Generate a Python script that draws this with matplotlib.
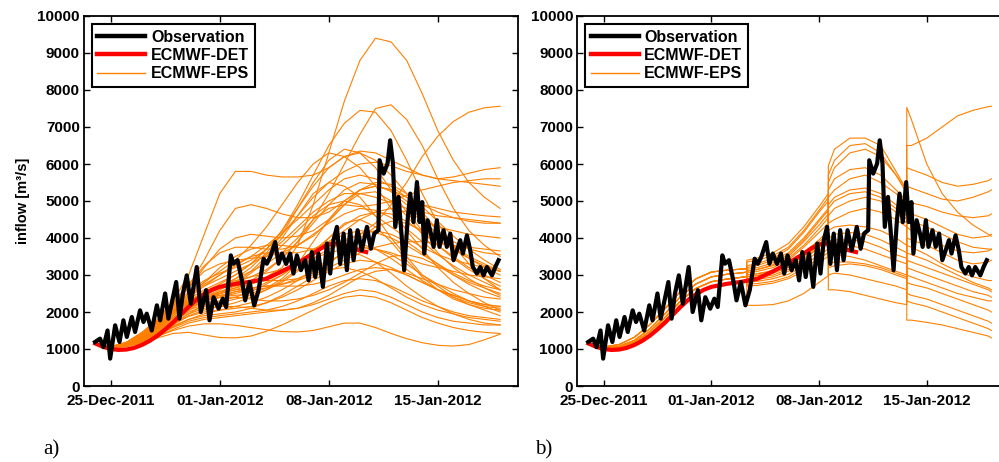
import numpy as np
import matplotlib
matplotlib.use('Agg')
import matplotlib.pyplot as plt
import matplotlib.dates as mdates
from matplotlib.lines import Line2D

plt.rcParams['font.family'] = ['Liberation Sans', 'DejaVu Sans']
plt.rcParams['font.weight'] = 'bold'

# time axis: days since 25-Dec-2011 00:00
BASE = np.datetime64('2011-12-25T00:00')
X_RANGE = (-1.72, 26.15)

# observed inflow
obs_day = [-1.01, -0.69, -0.47, -0.21, -0.04, 0.28, 0.56, 0.81, 1.03, 1.35,
           1.56, 1.88, 2.10, 2.31, 2.63, 2.96, 3.17, 3.49, 3.70, 4.20,
           4.41, 4.63, 4.88, 5.14, 5.52, 5.78, 6.12, 6.34, 6.60, 6.92,
           7.19, 7.41, 7.71, 7.88, 8.14, 8.42, 8.63, 8.91, 9.21, 9.49,
           9.81, 10.02, 10.24, 10.56, 10.77, 10.99, 11.26, 11.52, 11.73, 11.95,
           12.21, 12.48, 12.70, 12.91, 13.13, 13.34, 13.62, 13.88, 14.09, 14.30,
           14.52, 14.73, 14.95, 15.16, 15.37, 15.59, 15.85, 16.12, 16.45, 16.70,
           16.92, 17.19, 17.26, 17.52, 17.77, 17.94, 18.12, 18.27, 18.48, 18.69,
           18.84, 19.06, 19.23, 19.44, 19.66, 19.83, 20.00, 20.13, 20.34, 20.56,
           20.73, 20.94, 21.11, 21.37, 21.58, 21.80, 22.01, 22.23, 22.44, 22.61,
           22.87, 23.08, 23.25, 23.51, 23.73, 23.94, 24.15, 24.48, 24.69, 24.90]
obs_flow = [1190, 1280, 1050, 1500, 740, 1640, 1190, 1775, 1325, 1865,
            1460, 2045, 1730, 1955, 1500, 2180, 1775, 2500, 1820, 2810,
            1820, 2500, 2990, 2225, 3215, 2000, 2590, 1775, 2400, 2090,
            2360, 2135, 3530, 3305, 3400, 2855, 2315, 2810, 2180, 2590,
            3440, 3305, 3490, 3890, 3305, 3580, 3300, 3580, 3040, 3530,
            3130, 3400, 2855, 3620, 2945, 3580, 2680, 3850, 3040, 3940,
            4300, 3300, 4120, 3130, 4210, 3400, 4210, 3670, 4300, 3710,
            4120, 4210, 6100, 5740, 6010, 6640, 6010, 4300, 5110, 3980,
            3130, 4480, 5200, 4430, 5510, 4430, 4970, 3580, 4480, 4120,
            3760, 4480, 3760, 4210, 3760, 4120, 3400, 3670, 3940, 3580,
            4070, 3670, 3215, 3040, 3215, 2990, 3215, 2990, 3215, 3400]

# deterministic forecast
det_day = [-1, -0.5, 0, 0.5, 1, 1.5, 2, 2.5, 3, 3.5, 4, 4.5, 5, 5.5, 6, 6.5,
           7, 8, 9, 10, 11, 12, 13, 13.5, 14, 14.5, 15, 15.5, 16, 16.4]
det_flow = [1150, 1060, 1000, 975, 985, 1030, 1110, 1220, 1360, 1530, 1720,
            1930, 2140, 2330, 2480, 2600, 2680, 2760, 2820, 2900, 3100, 3320,
            3580, 3720, 3830, 3850, 3800, 3730, 3660, 3620]

# panel a: single EPS run, daily values from day -1 to day 25
eps_a_day = list(range(-1, 26))
eps_a = [
    [1150, 1060, 1160, 1380, 1700, 2050, 2300, 2450, 2500, 2600, 2750, 2950, 3200, 3800, 4900, 6300, 7700, 8800, 9400, 9300, 8800, 7900, 6900, 6100, 5500, 5100, 4800],
    [1150, 1050, 1150, 1370, 1680, 2000, 2300, 2500, 2650, 2800, 2950, 3150, 3450, 3900, 4500, 5200, 6000, 6800, 7500, 7600, 7200, 6500, 5600, 4800, 4200, 3800, 3500],
    [1150, 1060, 1170, 1400, 1750, 2150, 2550, 2850, 3050, 3200, 3400, 3700, 4200, 4900, 5700, 6500, 7100, 7450, 7400, 6900, 6100, 5200, 4400, 3800, 3300, 2900, 2600],
    [1150, 1060, 1170, 1400, 1700, 2000, 2200, 2300, 2400, 2500, 2600, 2800, 3000, 3300, 3600, 3800, 3950, 4100, 4400, 4900, 5500, 6200, 6750, 7150, 7400, 7520, 7560],
    [1150, 1060, 1180, 1450, 1800, 2300, 3000, 4100, 5200, 5800, 5800, 5700, 5650, 5650, 5700, 5900, 6200, 6350, 6300, 6100, 5900, 5700, 5600, 5650, 5750, 5850, 5900],
    [1150, 1060, 1170, 1420, 1750, 2200, 2700, 3400, 4200, 4800, 4900, 4800, 4650, 4550, 4550, 4700, 5000, 5300, 5400, 5300, 5100, 4900, 4700, 4550, 4450, 4400, 4400],
    [1150, 1050, 1150, 1360, 1650, 2000, 2350, 2600, 2800, 3000, 3300, 3700, 4200, 4800, 5400, 5900, 6200, 6300, 6100, 5700, 5200, 4700, 4200, 3800, 3500, 3300, 3100],
    [1150, 1050, 1140, 1340, 1620, 1950, 2250, 2450, 2650, 2900, 3200, 3600, 4100, 4800, 5500, 6100, 6400, 6300, 5900, 5300, 4700, 4200, 3800, 3500, 3200, 3000, 2800],
    [1150, 1060, 1160, 1380, 1700, 2100, 2500, 2800, 3100, 3400, 3800, 4300, 4900, 5500, 6000, 6300, 6200, 5900, 5400, 4800, 4200, 3700, 3200, 2800, 2500, 2250, 2050],
    [1150, 1050, 1150, 1350, 1650, 2000, 2300, 2550, 2750, 3000, 3300, 3700, 4100, 4600, 5100, 5500, 5800, 6000, 6050, 5950, 5800, 5700, 5600, 5550, 5500, 5450, 5400],
    [1150, 1050, 1140, 1330, 1600, 1900, 2200, 2400, 2600, 2800, 3100, 3500, 4000, 4600, 5200, 5500, 5400, 5100, 4600, 4000, 3500, 3000, 2700, 2400, 2200, 2050, 1900],
    [1150, 1060, 1160, 1380, 1680, 2050, 2400, 2700, 2900, 3100, 3300, 3550, 3900, 4300, 4700, 5000, 5200, 5200, 5100, 4950, 4800, 4700, 4600, 4550, 4500, 4450, 4400],
    [1150, 1050, 1150, 1350, 1650, 2000, 2300, 2500, 2700, 2900, 3100, 3300, 3600, 4000, 4500, 4800, 4900, 4850, 4900, 5000, 5150, 5300, 5400, 5500, 5550, 5600, 5600],
    [1150, 1060, 1170, 1400, 1720, 2100, 2450, 2750, 3000, 3250, 3500, 3800, 4150, 4500, 4900, 5300, 5600, 5700, 5600, 5400, 5100, 4900, 4800, 4700, 4650, 4600, 4570],
    [1150, 1050, 1130, 1320, 1580, 1850, 2100, 2300, 2500, 2750, 3050, 3400, 3800, 4200, 4600, 4900, 5000, 4900, 4600, 4300, 4000, 3750, 3550, 3400, 3300, 3200, 3100],
    [1150, 1060, 1170, 1400, 1700, 2050, 2400, 2700, 3000, 3300, 3500, 3600, 3600, 3600, 3700, 3900, 4200, 4500, 4700, 4800, 4700, 4500, 4300, 4200, 4100, 4050, 4000],
    [1150, 1050, 1150, 1350, 1650, 1980, 2250, 2400, 2450, 2450, 2500, 2650, 2900, 3300, 3900, 4500, 5000, 5300, 5400, 5300, 5000, 4600, 4200, 3900, 3700, 3600, 3550],
    [1150, 1040, 1110, 1280, 1520, 1800, 2050, 2200, 2300, 2400, 2550, 2750, 3000, 3300, 3600, 3900, 4100, 4200, 4150, 4000, 3800, 3550, 3300, 3050, 2850, 2700, 2600],
    [1150, 1050, 1140, 1340, 1620, 1950, 2250, 2500, 2700, 2850, 2950, 3050, 3150, 3300, 3450, 3600, 3700, 3750, 3700, 3600, 3450, 3300, 3200, 3100, 3000, 2950, 2900],
    [1150, 1040, 1100, 1260, 1480, 1750, 2000, 2150, 2250, 2350, 2450, 2600, 2800, 3100, 3500, 4000, 4400, 4500, 4300, 3900, 3400, 2950, 2600, 2350, 2200, 2100, 2050],
    [1150, 1050, 1130, 1310, 1560, 1850, 2150, 2350, 2500, 2600, 2650, 2700, 2750, 2850, 3000, 3200, 3400, 3600, 3750, 3850, 3900, 3900, 3850, 3800, 3750, 3700, 3650],
    [1150, 1040, 1100, 1250, 1450, 1680, 1880, 2000, 2050, 2100, 2150, 2250, 2400, 2600, 2850, 3100, 3300, 3400, 3350, 3200, 3000, 2800, 2600, 2450, 2300, 2200, 2150],
    [1150, 1050, 1150, 1360, 1640, 1950, 2200, 2350, 2400, 2400, 2350, 2300, 2300, 2350, 2450, 2600, 2800, 3050, 3300, 3500, 3550, 3450, 3250, 3000, 2800, 2650, 2500],
    [1150, 1040, 1090, 1230, 1420, 1620, 1800, 1900, 1950, 2000, 2100, 2250, 2450, 2700, 2950, 3150, 3200, 3100, 2900, 2650, 2400, 2200, 2050, 1950, 1850, 1800, 1750],
    [1150, 1040, 1100, 1250, 1450, 1700, 1950, 2100, 2150, 2150, 2100, 2050, 2050, 2100, 2250, 2450, 2700, 2950, 3100, 3150, 3050, 2900, 2750, 2600, 2500, 2400, 2350],
    [1150, 1030, 1080, 1200, 1380, 1580, 1750, 1850, 1900, 1950, 2000, 2050, 2150, 2300, 2500, 2700, 2850, 2900, 2850, 2700, 2500, 2300, 2150, 2000, 1900, 1850, 1800],
    [1150, 1030, 1060, 1160, 1300, 1420, 1450, 1380, 1310, 1300, 1350, 1480, 1650, 1850, 2050, 2250, 2400, 2450, 2400, 2250, 2050, 1850, 1700, 1580, 1500, 1450, 1420],
    [1150, 1030, 1070, 1180, 1340, 1500, 1620, 1680, 1680, 1640, 1580, 1520, 1470, 1460, 1500, 1600, 1700, 1700, 1580, 1420, 1280, 1170, 1100, 1080, 1120, 1250, 1400],
    [1150, 1030, 1080, 1190, 1350, 1530, 1700, 1800, 1850, 1900, 1950, 2000, 2050, 2100, 2200, 2350, 2500, 2600, 2550, 2400, 2200, 2000, 1850, 1750, 1700, 1650, 1650],
    [1150, 1040, 1090, 1220, 1400, 1600, 1800, 1950, 2050, 2150, 2250, 2400, 2600, 2850, 3150, 3400, 3550, 3550, 3350, 3050, 2700, 2400, 2150, 1950, 1800, 1700, 1650],
    [1150, 1040, 1100, 1240, 1440, 1680, 1950, 2200, 2400, 2550, 2650, 2700, 2700, 2700, 2750, 2850, 3000, 3150, 3200, 3150, 3000, 2800, 2600, 2450, 2300, 2200, 2150],
    [1150, 1050, 1120, 1290, 1520, 1800, 2100, 2350, 2550, 2700, 2800, 2850, 2850, 2900, 3050, 3300, 3650, 4000, 4300, 4450, 4400, 4200, 3950, 3700, 3450, 3250, 3100],
    [1150, 1050, 1150, 1350, 1650, 2000, 2400, 2800, 3200, 3500, 3700, 3800, 3800, 3750, 3700, 3750, 3900, 4100, 4200, 4100, 3900, 3600, 3300, 3000, 2750, 2550, 2400],
    [1150, 1060, 1170, 1400, 1730, 2150, 2650, 3200, 3700, 4000, 4100, 4050, 4000, 4050, 4200, 4500, 4900, 5300, 5500, 5450, 5200, 4850, 4450, 4050, 3700, 3400, 3150],
    [1150, 1060, 1180, 1440, 1800, 2250, 2750, 3250, 3600, 3750, 3750, 3700, 3700, 3800, 4050, 4450, 4900, 5200, 5250, 5000, 4600, 4100, 3600, 3200, 2900, 2650, 2450],
    [1150, 1050, 1130, 1300, 1550, 1850, 2150, 2350, 2500, 2650, 2850, 3100, 3450, 3900, 4400, 4900, 5300, 5500, 5450, 5250, 4900, 4500, 4100, 3750, 3450, 3200, 3000],
    [1150, 1040, 1100, 1260, 1480, 1750, 2050, 2300, 2450, 2550, 2600, 2650, 2750, 2900, 3100, 3350, 3600, 3750, 3700, 3550, 3300, 3000, 2750, 2500, 2300, 2150, 2000],
    [1150, 1050, 1140, 1320, 1580, 1900, 2200, 2400, 2550, 2650, 2750, 2900, 3100, 3350, 3650, 4000, 4350, 4600, 4700, 4650, 4450, 4150, 3800, 3450, 3150, 2900, 2700],
    [1150, 1040, 1090, 1230, 1430, 1650, 1900, 2050, 2150, 2250, 2400, 2600, 2850, 3150, 3450, 3700, 3850, 3850, 3700, 3450, 3150, 2850, 2600, 2400, 2250, 2150, 2100],
    [1150, 1060, 1170, 1410, 1760, 2200, 2700, 3100, 3300, 3400, 3450, 3500, 3600, 3800, 4100, 4400, 4650, 4800, 4750, 4550, 4250, 3900, 3550, 3250, 3000, 2800, 2600],
]

# panel b: successive EPS runs joined member by member
run1_day = [-1, 0, 1, 2, 3, 4, 5, 6, 7, 8, 9, 9.3]
run1 = [
    [1150, 1010, 1000, 1130, 1400, 1780, 2200, 2520, 2700, 2780, 2840, 2870],
    [1150, 1010, 1000, 1130, 1400, 1780, 2200, 2520, 2700, 2780, 2840, 2870],
    [1150, 1010, 1000, 1130, 1400, 1780, 2200, 2520, 2700, 2780, 2840, 2870],
    [1150, 1010, 1000, 1130, 1400, 1780, 2200, 2520, 2700, 2780, 2840, 2870],
    [1150, 1010, 1000, 1130, 1400, 1780, 2200, 2520, 2700, 2780, 2840, 2870],
    [1150, 1025, 1035, 1180, 1470, 1860, 2300, 2640, 2820, 2890, 2940, 2960],
    [1150, 1025, 1035, 1180, 1470, 1860, 2300, 2640, 2820, 2890, 2940, 2960],
    [1150, 1025, 1035, 1180, 1470, 1860, 2300, 2640, 2820, 2890, 2940, 2960],
    [1150, 1025, 1035, 1180, 1470, 1860, 2300, 2640, 2820, 2890, 2940, 2960],
    [1150, 1025, 1035, 1180, 1470, 1860, 2300, 2640, 2820, 2890, 2940, 2960],
    [1150, 1040, 1070, 1235, 1545, 1960, 2420, 2760, 2950, 3020, 3060, 3080],
    [1150, 1040, 1070, 1235, 1545, 1960, 2420, 2760, 2950, 3020, 3060, 3080],
    [1150, 1040, 1070, 1235, 1545, 1960, 2420, 2760, 2950, 3020, 3060, 3080],
    [1150, 1040, 1070, 1235, 1545, 1960, 2420, 2760, 2950, 3020, 3060, 3080],
    [1150, 1055, 1120, 1320, 1660, 2100, 2560, 2900, 3080, 3130, 3160, 3170],
    [1150, 1055, 1120, 1320, 1660, 2100, 2560, 2900, 3080, 3130, 3160, 3170],
    [1150, 1055, 1120, 1320, 1660, 2100, 2560, 2900, 3080, 3130, 3160, 3170],
    [1150, 1055, 1120, 1320, 1660, 2100, 2560, 2900, 3080, 3130, 3160, 3170],
]
run2_day = [9.3, 10, 11, 12, 13, 14, 14.6]
run2 = [
    [2180, 2180, 2200, 2300, 2500, 2800, 2980],
    [2700, 2720, 2780, 2900, 3100, 3350, 3500],
    [2850, 2880, 2950, 3100, 3350, 3650, 3850],
    [2950, 2990, 3080, 3250, 3550, 3900, 4100],
    [3050, 3100, 3200, 3400, 3750, 4150, 4400],
    [3150, 3200, 3330, 3550, 3950, 4450, 4750],
    [3250, 3310, 3450, 3700, 4150, 4700, 5000],
    [3400, 3460, 3600, 3850, 4300, 4850, 5200],
    [3000, 3040, 3120, 3300, 3600, 3950, 4200],
    [2800, 2830, 2900, 3020, 3250, 3550, 3700],
    [3100, 3150, 3250, 3450, 3800, 4250, 4550],
    [2900, 2930, 3000, 3150, 3400, 3750, 3950],
    [3200, 3260, 3400, 3600, 4000, 4500, 4800],
    [2750, 2770, 2830, 2950, 3180, 3450, 3600],
    [3350, 3400, 3520, 3750, 4200, 4750, 5100],
    [3000, 3030, 3100, 3250, 3500, 3800, 4000],
    [2950, 2980, 3050, 3200, 3450, 3750, 3900],
    [3100, 3150, 3280, 3500, 3900, 4350, 4650],
]
run3_day = [14.6, 15, 16, 17, 18, 19, 19.7]
run3 = [
    [5950, 6400, 6700, 6700, 6500, 5800, 5300],
    [5500, 5900, 6300, 6400, 6200, 5700, 5300],
    [5300, 5600, 5850, 5900, 5700, 5300, 5000],
    [5100, 5300, 5600, 5700, 5500, 5200, 4900],
    [4900, 5100, 5300, 5350, 5200, 4900, 4600],
    [4600, 4800, 5000, 5100, 5000, 4700, 4400],
    [4400, 4500, 4700, 4800, 4700, 4500, 4300],
    [4200, 4300, 4350, 4300, 4200, 4000, 3800],
    [4000, 4100, 4150, 4100, 3950, 3750, 3600],
    [3800, 3850, 3800, 3700, 3550, 3400, 3300],
    [3500, 3550, 3500, 3400, 3250, 3100, 3000],
    [3200, 3250, 3300, 3250, 3150, 3000, 2900],
    [3000, 3050, 3000, 2900, 2800, 2700, 2600],
    [2600, 2600, 2550, 2450, 2350, 2250, 2200],
    [4800, 5000, 5200, 5250, 5100, 4800, 4500],
    [3900, 3950, 3950, 3900, 3750, 3550, 3450],
    [5700, 6100, 6500, 6550, 6300, 5700, 5200],
    [3300, 3350, 3350, 3300, 3200, 3050, 2950],
]
run4_day = [19.7, 20, 21, 22, 23, 24, 25, 25.2]
run4 = [
    [7530, 7200, 6000, 5200, 4700, 4350, 4100, 4050],
    [6500, 6500, 6700, 7000, 7300, 7450, 7550, 7560],
    [5900, 5850, 5700, 5500, 5400, 5450, 5550, 5600],
    [5400, 5350, 5200, 5050, 5000, 5100, 5250, 5300],
    [5000, 4950, 4850, 4700, 4600, 4550, 4600, 4650],
    [4700, 4650, 4500, 4300, 4100, 4000, 4050, 4100],
    [4500, 4450, 4300, 4100, 3900, 3750, 3700, 3700],
    [4300, 4200, 4000, 3800, 3650, 3600, 3650, 3700],
    [4000, 3950, 3800, 3600, 3400, 3300, 3350, 3400],
    [3800, 3750, 3550, 3300, 3100, 2950, 2850, 2850],
    [3600, 3550, 3400, 3200, 3000, 2800, 2650, 2600],
    [3400, 3350, 3200, 3050, 2900, 2750, 2600, 2550],
    [3200, 3150, 3000, 2850, 2700, 2550, 2450, 2400],
    [3000, 2950, 2800, 2650, 2500, 2400, 2300, 2300],
    [2800, 2750, 2650, 2500, 2350, 2200, 2050, 2000],
    [2500, 2450, 2350, 2200, 2050, 1900, 1750, 1700],
    [2300, 2250, 2150, 2000, 1850, 1700, 1550, 1500],
    [1780, 1780, 1720, 1650, 1550, 1450, 1350, 1300],
]

EPS_COLOR = (1.0, 0.5, 0.0)


def to_dates(days):
    minutes = np.round(np.asarray(days, dtype=float) * 1440).astype(int)
    return BASE + minutes.astype('timedelta64[m]')


def style_axes(ax):
    ax.set_xlim(to_dates(X_RANGE[0]), to_dates(X_RANGE[1]))
    ax.set_ylim(0, 10000)
    ax.set_yticks(range(0, 10001, 1000))
    ax.set_xticks(to_dates([0, 7, 14, 21]))
    ax.xaxis.set_major_formatter(mdates.DateFormatter('%d-%b-%Y'))
    ax.tick_params(direction='in', top=True, right=True, length=4, width=1,
                   labelsize=11, pad=3)
    ax.tick_params(axis='x', pad=6)
    for side in ax.spines.values():
        side.set_linewidth(1.3)


def draw_panel(ax, eps_lines):
    for days, vals in eps_lines:
        ax.plot(to_dates(days), vals, color=EPS_COLOR, lw=0.8, zorder=2)
    ax.plot(to_dates(det_day), det_flow, color='red', lw=3.0, zorder=3)
    ax.plot(to_dates(obs_day), obs_flow, color='black', lw=3.0, zorder=4)
    style_axes(ax)
    handles = [Line2D([], [], color='black', lw=3.2),
               Line2D([], [], color='red', lw=3.2),
               Line2D([], [], color=EPS_COLOR, lw=1.0)]
    leg = ax.legend(handles, ['Observation', 'ECMWF-DET', 'ECMWF-EPS'],
                    loc='upper left', bbox_to_anchor=(0.018, 0.978),
                    borderaxespad=0, fancybox=False, framealpha=1,
                    edgecolor='black', fontsize=11.5, handlelength=3.0,
                    handletextpad=0.35, labelspacing=0.2, borderpad=0.35)
    leg.get_frame().set_linewidth(1.5)


fig = plt.figure(figsize=(9.99, 4.62), dpi=100)
ax_a = fig.add_axes([84 / 999, 76 / 462, 434 / 999, 370 / 462])
ax_b = fig.add_axes([577.3 / 999, 76 / 462, 428.7 / 999, 370 / 462])

lines_a = [(eps_a_day, m) for m in eps_a]
draw_panel(ax_a, lines_a)
ax_a.set_ylabel('inflow [m³/s]', fontsize=10.5, fontweight='bold', labelpad=5)

b_day = run1_day + run2_day + run3_day + run4_day
lines_b = [(b_day, r1 + r2 + r3 + r4) for r1, r2, r3, r4 in zip(run1, run2, run3, run4)]
draw_panel(ax_b, lines_b)

fig.text(43 / 999, 12 / 462, 'a)', family='Liberation Serif', weight='normal',
         fontsize=15, va='center')
fig.text(535 / 999, 12 / 462, 'b)', family='Liberation Serif', weight='normal',
         fontsize=15, va='center')

fig.savefig('out.png', dpi=100)
